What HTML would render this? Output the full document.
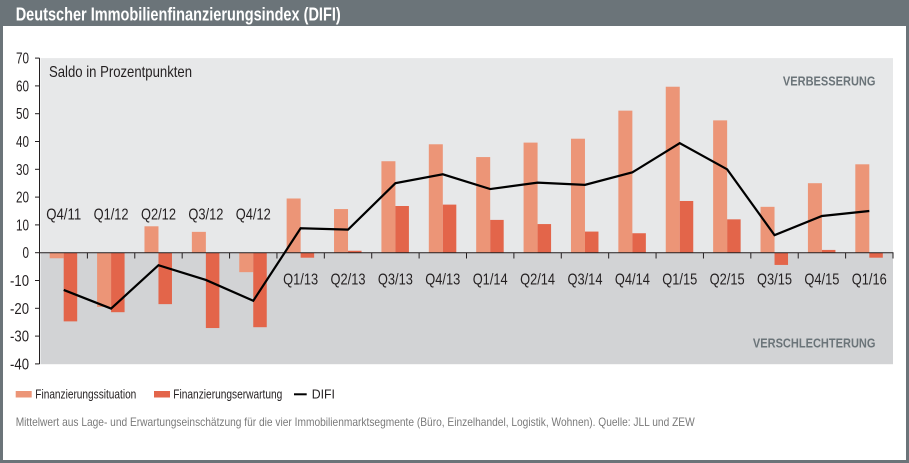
<!DOCTYPE html>
<html><head><meta charset="utf-8"><style>
html,body{margin:0;padding:0;background:#fff;}
svg{display:block;}
text{font-family:"Liberation Sans Narrow","Liberation Sans",Arial,sans-serif;}
</style></head><body>
<svg width="909" height="463" viewBox="0 0 909 463" xmlns="http://www.w3.org/2000/svg">
<rect x="0" y="0" width="909" height="463" fill="#ffffff"/>
<!-- frame -->
<rect x="0" y="0" width="909" height="26" fill="#6b7479"/>
<rect x="0" y="0" width="3" height="463" fill="#6b7479"/>
<rect x="906" y="0" width="3" height="463" fill="#6b7479"/>
<rect x="0" y="460" width="909" height="3" fill="#6b7479"/>
<text x="15.7" y="20.5" font-size="18.5" font-weight="bold" fill="#ffffff" textLength="325" lengthAdjust="spacingAndGlyphs">Deutscher Immobilienfinanzierungsindex (DIFI)</text>

<!-- plot backgrounds -->
<rect x="40.5" y="58.1" width="852.5" height="194.6" fill="#e7e8e9"/>
<rect x="40.5" y="252.7" width="852.5" height="111.5" fill="#d2d3d5"/>

<text x="49" y="77" font-size="16" fill="#231f20" textLength="143" lengthAdjust="spacingAndGlyphs">Saldo in Prozentpunkten</text>
<text x="875.5" y="85.7" font-size="12.5" font-weight="bold" fill="#6b7479" text-anchor="end" textLength="92.6" lengthAdjust="spacingAndGlyphs">VERBESSERUNG</text>
<text x="875.5" y="347.7" font-size="12.5" font-weight="bold" fill="#6b7479" text-anchor="end" textLength="122.6" lengthAdjust="spacingAndGlyphs">VERSCHLECHTERUNG</text>

<!-- light bars: Finanzierungssituation -->
<g fill="#ec9577">
<rect x="49.69" y="252.7" width="14" height="5.56"/>
<rect x="97.08" y="252.7" width="14" height="54.21"/>
<rect x="144.47" y="226.29" width="14" height="26.41"/>
<rect x="191.86" y="231.85" width="14" height="20.85"/>
<rect x="239.25" y="252.7" width="14" height="19.46"/>
<rect x="286.64" y="198.49" width="14" height="54.21"/>
<rect x="334.03" y="209.05" width="14" height="43.65"/>
<rect x="381.42" y="161.24" width="14" height="91.46"/>
<rect x="428.81" y="144.28" width="14" height="108.42"/>
<rect x="476.19" y="157.07" width="14" height="95.63"/>
<rect x="523.58" y="142.61" width="14" height="110.09"/>
<rect x="570.97" y="138.72" width="14" height="113.98"/>
<rect x="618.36" y="110.64" width="14" height="142.06"/>
<rect x="665.75" y="86.73" width="14" height="165.97"/>
<rect x="713.14" y="120.37" width="14" height="132.33"/>
<rect x="760.53" y="206.83" width="14" height="45.87"/>
<rect x="807.92" y="183.2" width="14" height="69.5"/>
<rect x="855.31" y="164.3" width="14" height="88.4"/>
</g>
<!-- dark bars: Finanzierungserwartung -->
<g fill="#e3654a">
<rect x="63.69" y="252.7" width="13.5" height="68.67"/>
<rect x="111.08" y="252.7" width="13.5" height="59.49"/>
<rect x="158.47" y="252.7" width="13.5" height="51.43"/>
<rect x="205.86" y="252.7" width="13.5" height="75.34"/>
<rect x="253.25" y="252.7" width="13.5" height="74.5"/>
<rect x="300.64" y="252.7" width="13.5" height="5"/>
<rect x="348.03" y="250.75" width="13.5" height="1.95"/>
<rect x="395.42" y="206" width="13.5" height="46.7"/>
<rect x="442.81" y="204.61" width="13.5" height="48.09"/>
<rect x="490.19" y="219.9" width="13.5" height="32.8"/>
<rect x="537.58" y="224.07" width="13.5" height="28.63"/>
<rect x="584.97" y="231.57" width="13.5" height="21.13"/>
<rect x="632.36" y="233.24" width="13.5" height="19.46"/>
<rect x="679.75" y="200.99" width="13.5" height="51.71"/>
<rect x="727.14" y="219.34" width="13.5" height="33.36"/>
<rect x="774.53" y="252.7" width="13.5" height="12.23"/>
<rect x="821.92" y="249.92" width="13.5" height="2.78"/>
<rect x="869.31" y="252.7" width="13.5" height="5"/>
</g>

<!-- axes -->
<g stroke="#231f20" stroke-width="1" fill="none">
<line x1="39.5" y1="58.1" x2="39.5" y2="364"/>
<line x1="35" y1="58.1" x2="39.5" y2="58.1"/>
<line x1="35" y1="85.9" x2="39.5" y2="85.9"/>
<line x1="35" y1="113.7" x2="39.5" y2="113.7"/>
<line x1="35" y1="141.5" x2="39.5" y2="141.5"/>
<line x1="35" y1="169.3" x2="39.5" y2="169.3"/>
<line x1="35" y1="197.1" x2="39.5" y2="197.1"/>
<line x1="35" y1="224.9" x2="39.5" y2="224.9"/>
<line x1="35" y1="252.7" x2="39.5" y2="252.7"/>
<line x1="35" y1="280.5" x2="39.5" y2="280.5"/>
<line x1="35" y1="308.3" x2="39.5" y2="308.3"/>
<line x1="35" y1="336.1" x2="39.5" y2="336.1"/>
<line x1="35" y1="363.9" x2="39.5" y2="363.9"/>
<line x1="39.5" y1="252.7" x2="893.5" y2="252.7"/>
<line x1="87.39" y1="252.7" x2="87.39" y2="258.5"/>
<line x1="134.78" y1="252.7" x2="134.78" y2="258.5"/>
<line x1="182.17" y1="252.7" x2="182.17" y2="258.5"/>
<line x1="229.56" y1="252.7" x2="229.56" y2="258.5"/>
<line x1="276.94" y1="252.7" x2="276.94" y2="258.5"/>
<line x1="324.33" y1="252.7" x2="324.33" y2="258.5"/>
<line x1="371.72" y1="252.7" x2="371.72" y2="258.5"/>
<line x1="419.11" y1="252.7" x2="419.11" y2="258.5"/>
<line x1="466.5" y1="252.7" x2="466.5" y2="258.5"/>
<line x1="513.89" y1="252.7" x2="513.89" y2="258.5"/>
<line x1="561.28" y1="252.7" x2="561.28" y2="258.5"/>
<line x1="608.67" y1="252.7" x2="608.67" y2="258.5"/>
<line x1="656.06" y1="252.7" x2="656.06" y2="258.5"/>
<line x1="703.44" y1="252.7" x2="703.44" y2="258.5"/>
<line x1="750.83" y1="252.7" x2="750.83" y2="258.5"/>
<line x1="798.22" y1="252.7" x2="798.22" y2="258.5"/>
<line x1="845.61" y1="252.7" x2="845.61" y2="258.5"/>
<line x1="893" y1="252.7" x2="893" y2="258.5"/>
</g>

<!-- DIFI line -->
<polyline fill="none" stroke="#000" stroke-width="2.2" stroke-linejoin="miter" points="63.69,289.95 111.08,308.58 158.47,265.21 205.86,279.94 253.25,300.79 300.64,228.24 348.03,229.63 395.42,183.2 442.81,174.3 490.19,189.04 537.58,182.64 584.97,184.87 632.36,172.36 679.75,143.17 727.14,169.3 774.53,235.19 821.92,216 869.31,211"/>

<!-- y tick labels -->
<g font-size="16" fill="#231f20" text-anchor="end">
<text x="29" y="63.6" textLength="13" lengthAdjust="spacingAndGlyphs">70</text>
<text x="29" y="91.4" textLength="13" lengthAdjust="spacingAndGlyphs">60</text>
<text x="29" y="119.2" textLength="13" lengthAdjust="spacingAndGlyphs">50</text>
<text x="29" y="147" textLength="13" lengthAdjust="spacingAndGlyphs">40</text>
<text x="29" y="174.8" textLength="13" lengthAdjust="spacingAndGlyphs">30</text>
<text x="29" y="202.6" textLength="13" lengthAdjust="spacingAndGlyphs">20</text>
<text x="29" y="230.4" textLength="13" lengthAdjust="spacingAndGlyphs">10</text>
<text x="29" y="258.2" textLength="6.5" lengthAdjust="spacingAndGlyphs">0</text>
<text x="29" y="286" textLength="19" lengthAdjust="spacingAndGlyphs">-10</text>
<text x="29" y="313.8" textLength="19" lengthAdjust="spacingAndGlyphs">-20</text>
<text x="29" y="341.6" textLength="19" lengthAdjust="spacingAndGlyphs">-30</text>
<text x="29" y="369.4" textLength="19" lengthAdjust="spacingAndGlyphs">-40</text>
</g>

<!-- category labels -->
<g font-size="16" fill="#231f20" text-anchor="middle">
<text x="63.69" y="219.5" textLength="35" lengthAdjust="spacingAndGlyphs">Q4/11</text>
<text x="111.08" y="219.5" textLength="35" lengthAdjust="spacingAndGlyphs">Q1/12</text>
<text x="158.47" y="219.5" textLength="35" lengthAdjust="spacingAndGlyphs">Q2/12</text>
<text x="205.86" y="219.5" textLength="35" lengthAdjust="spacingAndGlyphs">Q3/12</text>
<text x="253.25" y="219.5" textLength="35" lengthAdjust="spacingAndGlyphs">Q4/12</text>
<text x="300.64" y="284.5" textLength="35" lengthAdjust="spacingAndGlyphs">Q1/13</text>
<text x="348.03" y="284.5" textLength="35" lengthAdjust="spacingAndGlyphs">Q2/13</text>
<text x="395.42" y="284.5" textLength="35" lengthAdjust="spacingAndGlyphs">Q3/13</text>
<text x="442.81" y="284.5" textLength="35" lengthAdjust="spacingAndGlyphs">Q4/13</text>
<text x="490.19" y="284.5" textLength="35" lengthAdjust="spacingAndGlyphs">Q1/14</text>
<text x="537.58" y="284.5" textLength="35" lengthAdjust="spacingAndGlyphs">Q2/14</text>
<text x="584.97" y="284.5" textLength="35" lengthAdjust="spacingAndGlyphs">Q3/14</text>
<text x="632.36" y="284.5" textLength="35" lengthAdjust="spacingAndGlyphs">Q4/14</text>
<text x="679.75" y="284.5" textLength="35" lengthAdjust="spacingAndGlyphs">Q1/15</text>
<text x="727.14" y="284.5" textLength="35" lengthAdjust="spacingAndGlyphs">Q2/15</text>
<text x="774.53" y="284.5" textLength="35" lengthAdjust="spacingAndGlyphs">Q3/15</text>
<text x="821.92" y="284.5" textLength="35" lengthAdjust="spacingAndGlyphs">Q4/15</text>
<text x="869.31" y="284.5" textLength="35" lengthAdjust="spacingAndGlyphs">Q1/16</text>
</g>

<!-- legend -->
<rect x="15.7" y="391" width="16" height="6.5" fill="#ec9577"/>
<text x="35.3" y="398.6" font-size="12.5" fill="#231f20" textLength="101" lengthAdjust="spacingAndGlyphs">Finanzierungssituation</text>
<rect x="154" y="391" width="16" height="6.5" fill="#e3654a"/>
<text x="173.3" y="398.6" font-size="12.5" fill="#231f20" textLength="109" lengthAdjust="spacingAndGlyphs">Finanzierungserwartung</text>
<line x1="294" y1="394.3" x2="306.7" y2="394.3" stroke="#000" stroke-width="2"/>
<text x="311.7" y="398.6" font-size="12.5" fill="#231f20" textLength="23.3" lengthAdjust="spacingAndGlyphs">DIFI</text>

<!-- footer -->
<text x="15.7" y="426" font-size="12" fill="#7a7a7a" textLength="679" lengthAdjust="spacingAndGlyphs">Mittelwert aus Lage- und Erwartungseinschätzung für die vier Immobilienmarktsegmente (Büro, Einzelhandel, Logistik, Wohnen). Quelle: JLL und ZEW</text>
</svg>
</body></html>
